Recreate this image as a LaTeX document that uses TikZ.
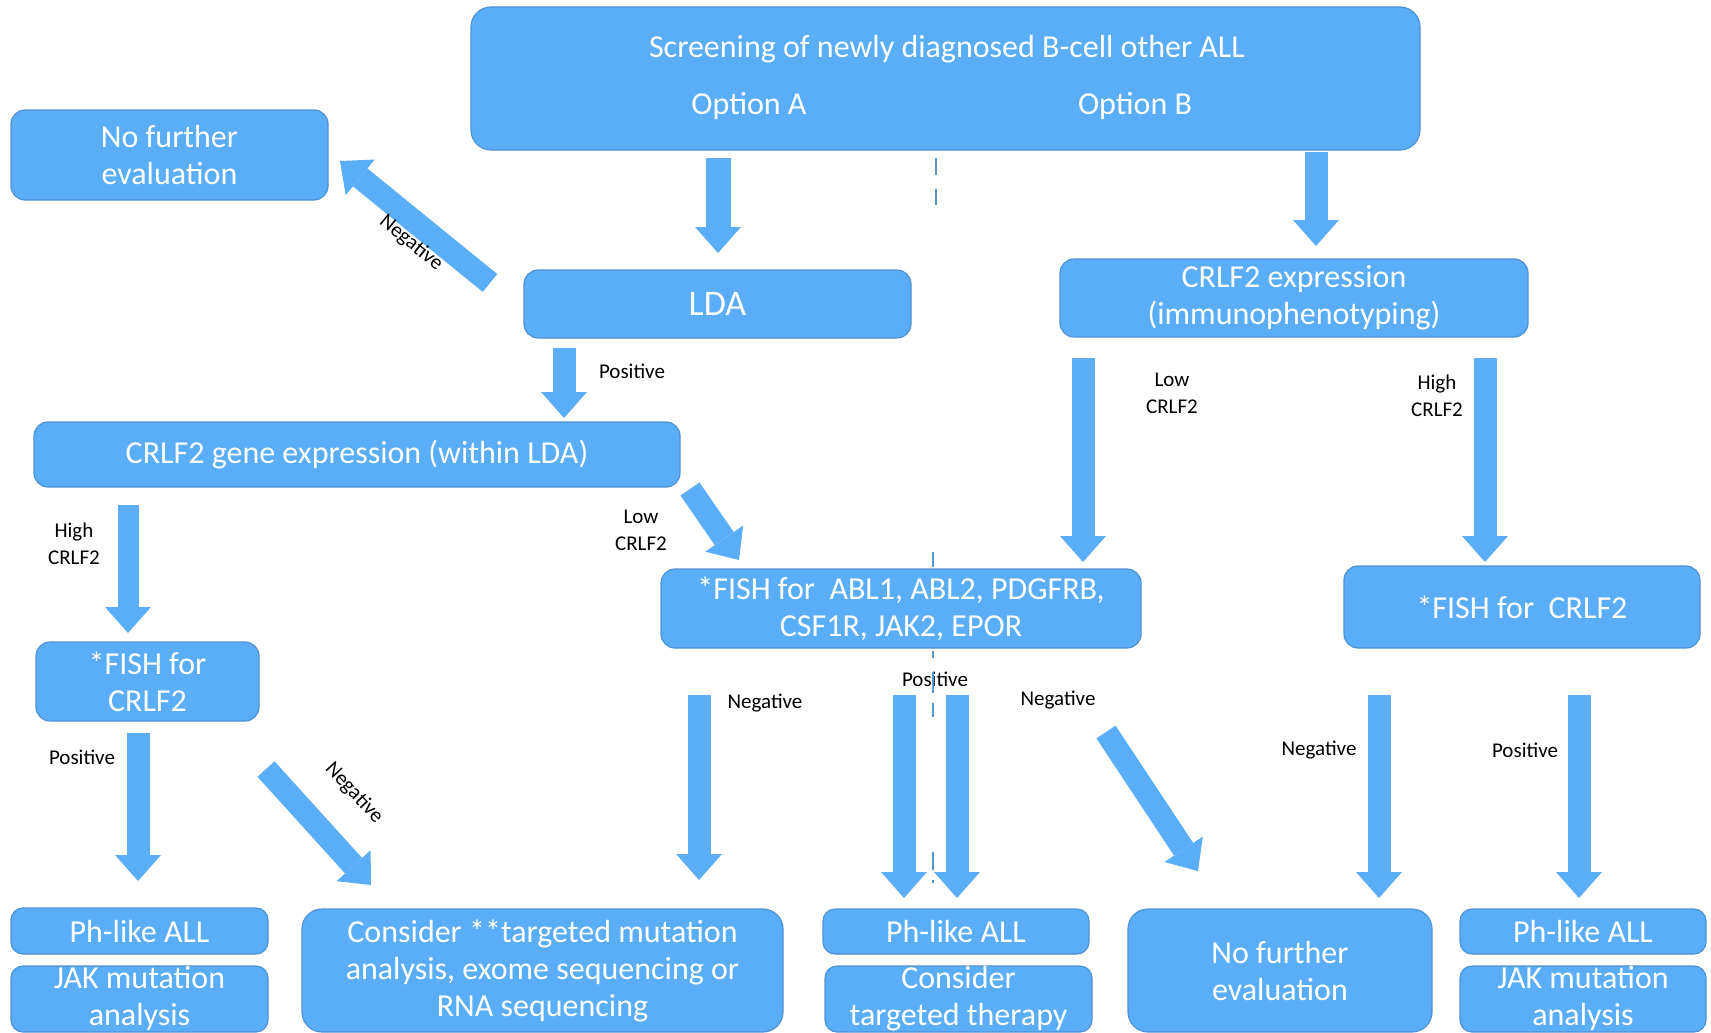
\documentclass[tikz,border=0pt]{standalone}
\usepackage{fontspec}
\setmainfont{Carlito}
\usetikzlibrary{arrows.meta}
\definecolor{boxblue}{RGB}{90,173,247}
\definecolor{edgeblue}{RGB}{78,146,212}
\definecolor{dashblue}{RGB}{84,150,205}

\begin{document}
\begin{tikzpicture}[x=1pt,y=-1pt,
  box/.style={draw=edgeblue, line width=1.2pt, fill=boxblue, rounded corners=#1,
    inner sep=0pt, align=center, text=white, font=\fontsize{32}{37}\selectfont},
  box/.default=14pt,
  txt/.style={inner sep=0pt, text=white, font=\fontsize{32}{37}\selectfont},
  lab/.style={inner sep=0pt, align=center, text=black, font=\fontsize{21}{27}\selectfont},
  flow/.style={draw=boxblue, line width=#1,
    -{Triangle[width=46pt,length=26pt,line width=0pt]}},
  flow/.default=23pt,
  sep/.style={draw=dashblue, line width=2.6pt}]

\useasboundingbox (0,0) rectangle (1711,1033);

% ---------- boxes ----------
\node[box=20pt, minimum width=949pt, minimum height=143pt] (top) at (945.5,78.5) {};
\node[txt] (title) at (947,49) {Screening of newly diagnosed B-cell other ALL};
\node[txt] (optA) at (749,106) {Option A};
\node[txt] (optB) at (1135,106) {Option B};

\node[box, minimum width=317pt, minimum height=90pt] (nfeA) at (169.5,155) {No further\\evaluation};
\node[box, minimum width=387pt, minimum height=68pt, font=\fontsize{36}{40}\selectfont] (lda) at (717.5,304) {LDA};
\node[box, minimum width=468pt, minimum height=78pt] (ihc) at (1294,298) {CRLF2 expression\\(immunophenotyping)};
\node[box, minimum width=646pt, minimum height=65pt] (gene) at (357,454.5) {CRLF2 gene expression (within LDA)};
\node[box, minimum width=223pt, minimum height=79pt] (fishL) at (147.5,681.5) {*FISH for\\CRLF2};
\node[box, minimum width=480pt, minimum height=79pt] (fishM) at (901,608.5) {*FISH for\ \ ABL1, ABL2, PDGFRB,\\CSF1R, JAK2, EPOR};
\node[box, minimum width=356pt, minimum height=82pt] (fishR) at (1522,607) {*FISH for\ \ CRLF2};

\node[box=12pt, minimum width=257pt, minimum height=46pt] (phL) at (139.5,931) {Ph-like ALL};
\node[box=12pt, minimum width=257pt, minimum height=66pt] (jakL) at (139.5,999) {JAK mutation\\analysis};
\node[box=20pt, minimum width=481pt, minimum height=123pt] (cons) at (542.5,970.5) {Consider **targeted mutation\\analysis, exome sequencing or\\RNA sequencing};
\node[box=12pt, minimum width=266pt, minimum height=45pt] (phM) at (956,931.5) {Ph-like ALL};
\node[box=12pt, minimum width=267pt, minimum height=66pt] (ther) at (958.5,999) {Consider\\targeted therapy};
\node[box=20pt, minimum width=304pt, minimum height=123pt] (nfeB) at (1280,970.5) {No further\\evaluation};
\node[box=12pt, minimum width=246pt, minimum height=45pt] (phR) at (1583,931.5) {Ph-like ALL};
\node[box=12pt, minimum width=246pt, minimum height=66pt] (jakR) at (1583,999) {JAK mutation\\analysis};

% ---------- arrow end points ----------
\coordinate (topA) at (718,158);   \coordinate (ldaIn) at (718,253);
\coordinate (ldaNeg) at (490,283); \coordinate (nfeAIn) at (340,161);
\coordinate (ldaPos) at (564,348); \coordinate (geneIn) at (564,418);
\coordinate (geneHi) at (128,505); \coordinate (fishLIn) at (128,633);
\coordinate (geneLo) at (690,489); \coordinate (fishMInA) at (739,560);
\coordinate (fishLPos) at (138,733); \coordinate (phLIn) at (138,881);
\coordinate (fishLNeg) at (266,769); \coordinate (consInA) at (371,885);
\coordinate (fishMNeg) at (699,695); \coordinate (consInB) at (699,880);
\coordinate (fishMPos1) at (904,695); \coordinate (phMIn1) at (904,898);
\coordinate (fishMPos2) at (957,695); \coordinate (phMIn2) at (957,898);
\coordinate (fishMNeg2) at (1106,732); \coordinate (nfeBInA) at (1198,871);
\coordinate (topB) at (1316,152);  \coordinate (ihcIn) at (1316,246);
\coordinate (ihcLo) at (1083,358); \coordinate (fishMInB) at (1083,562);
\coordinate (ihcHi) at (1485,358); \coordinate (fishRIn) at (1485,562);
\coordinate (fishRNeg) at (1379,695); \coordinate (nfeBInB) at (1379,898);
\coordinate (fishRPos) at (1579,695); \coordinate (phRIn) at (1579,898);

% ---------- block arrows ----------
\draw[flow=25pt] (topA) -- (ldaIn);
\draw[flow] (ldaNeg) -- (nfeAIn);
\draw[flow] (ldaPos) -- (geneIn);
\draw[flow=21pt] (geneHi) -- (fishLIn);
\draw[flow] (geneLo) -- (fishMInA);
\draw[flow] (fishLPos) -- (phLIn);
\draw[flow] (fishLNeg) -- (consInA);
\draw[flow] (fishMNeg) -- (consInB);
\draw[flow] (fishMPos1) -- (phMIn1);
\draw[flow] (fishMPos2) -- (phMIn2);
\draw[flow] (fishMNeg2) -- (nfeBInA);
\draw[flow] (topB) -- (ihcIn);
\draw[flow] (ihcLo) -- (fishMInB);
\draw[flow] (ihcHi) -- (fishRIn);
\draw[flow] (fishRNeg) -- (nfeBInB);
\draw[flow] (fishRPos) -- (phRIn);

% ---------- arrow labels ----------
\node[lab, rotate=-39] (l1) at (411,243) {Negative};
\node[lab] (l2) at (632,371) {Positive};
\node[lab] (l3) at (74,544) {High\\CRLF2};
\node[lab] (l4) at (641,530) {Low\\CRLF2};
\node[lab] (l5) at (82,757) {Positive};
\node[lab, rotate=-47] (l6) at (354,793) {Negative};
\node[lab] (l7) at (765,703) {Negative};
\node[lab] (l8) at (935,679) {Positive};
\node[lab] (l9) at (1058,700) {Negative};
\node[lab] (l10) at (1172,393) {Low\\CRLF2};
\node[lab] (l11) at (1437,396) {High\\CRLF2};
\node[lab] (l12) at (1319,750) {Negative};
\node[lab] (l13) at (1525,750) {Positive};

% ---------- dashed separator between the two options ----------
\draw[sep] (936,158) -- (936,175);
\draw[sep] (936,189) -- (936,205);
\draw[sep] (933,552) -- (933,567);
\draw[sep] (933,651) -- (933,658);
\draw[sep] (933,672) -- (933,693);
\draw[sep] (933,703) -- (933,717);
\draw[sep] (933,852) -- (933,870);
\draw[sep] (933,880) -- (933,883);
\end{tikzpicture}
\end{document}
